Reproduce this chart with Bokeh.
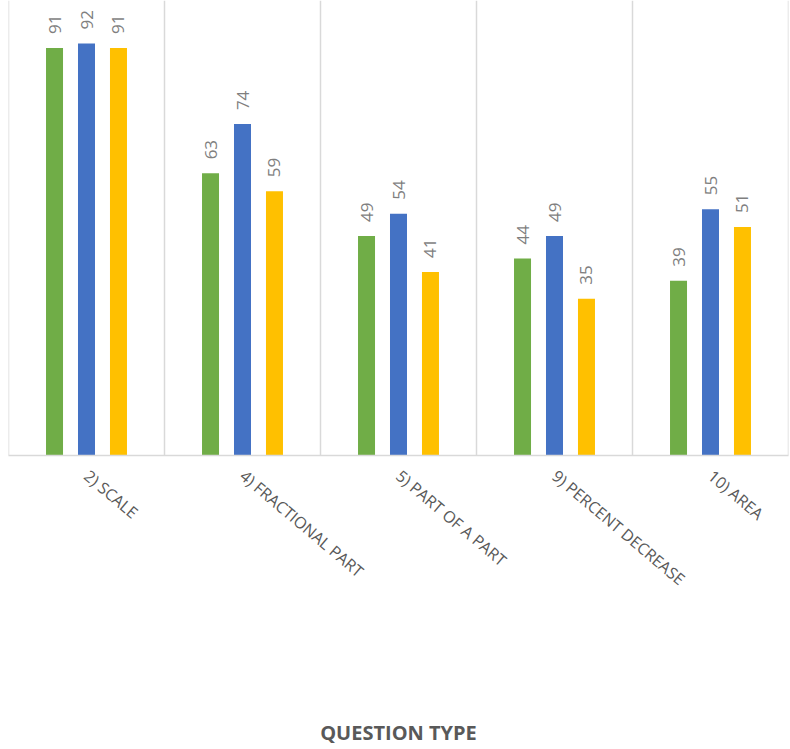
import math
from bokeh.plotting import figure
from bokeh.models import ColumnDataSource, FactorRange, Range1d, Span
from bokeh.transform import dodge
from bokeh.core.properties import value
from bokeh.embed import file_html
from bokeh.resources import INLINE

categories = ["2) SCALE", "4) FRACTIONAL PART", "5) PART OF A PART",
              "9) PERCENT DECREASE", "10) AREA"]
series_green = [91, 63, 49, 44, 39]
series_blue = [92, 74, 54, 49, 55]
series_gold = [91, 59, 41, 35, 51]

colors = {"green": "#70AD47", "blue": "#4472C4", "gold": "#FFC000"}
offsets = {"green": -0.205, "blue": 0.0, "gold": 0.205}

src = ColumnDataSource(dict(
    cat=categories,
    green=series_green, blue=series_blue, gold=series_gold,
    green_lbl=[str(v) for v in series_green],
    blue_lbl=[str(v) for v in series_blue],
    gold_lbl=[str(v) for v in series_gold],
))

p = figure(width=790, height=749, x_range=FactorRange(factors=categories, range_padding=0),
           y_range=Range1d(0, 101.6), output_backend="svg", toolbar_location=None,
           y_axis_location=None, min_border_left=8, min_border_right=2,
           min_border_top=0, min_border_bottom=6)
p.outline_line_color = None
p.xgrid.visible = False
p.ygrid.visible = False
p.background_fill_color = "white"
p.border_fill_color = "white"

for i in range(len(categories) + 1):
    p.add_layout(Span(location=i, dimension="height", line_color="#d9d9d9", line_width=1.5))

for key in ["green", "blue", "gold"]:
    p.vbar(x=dodge("cat", offsets[key], range=p.x_range), top=key, width=0.109,
           bottom=0, source=src, fill_color=colors[key], line_color=None)
    p.text(x=dodge("cat", offsets[key], range=p.x_range), y=key, text=key + "_lbl",
           source=src, angle=math.pi / 2, text_align="left", text_baseline="middle",
           y_offset=-14, text_font=value("Open Sans"), text_font_size="17px",
           text_color="#7f7f7f")

ax = p.xaxis[0]
ax.axis_line_color = "#d9d9d9"
ax.axis_line_width = 1.5
ax.major_tick_line_color = None
ax.minor_tick_line_color = None
ax.major_tick_out = 0
ax.major_tick_in = 0
ax.major_label_orientation = -0.70
ax.major_label_standoff = 18
ax.major_label_text_font = "Open Sans"
ax.major_label_text_font_size = "16px"
ax.major_label_text_color = "#595959"
ax.axis_label = "QUESTION TYPE"
ax.axis_label_text_font = "Open Sans"
ax.axis_label_text_font_style = "bold"
ax.axis_label_text_font_size = "20px"
ax.axis_label_text_color = "#595959"
ax.axis_label_standoff = 118

open("out.html", "w").write(file_html(p, INLINE))
